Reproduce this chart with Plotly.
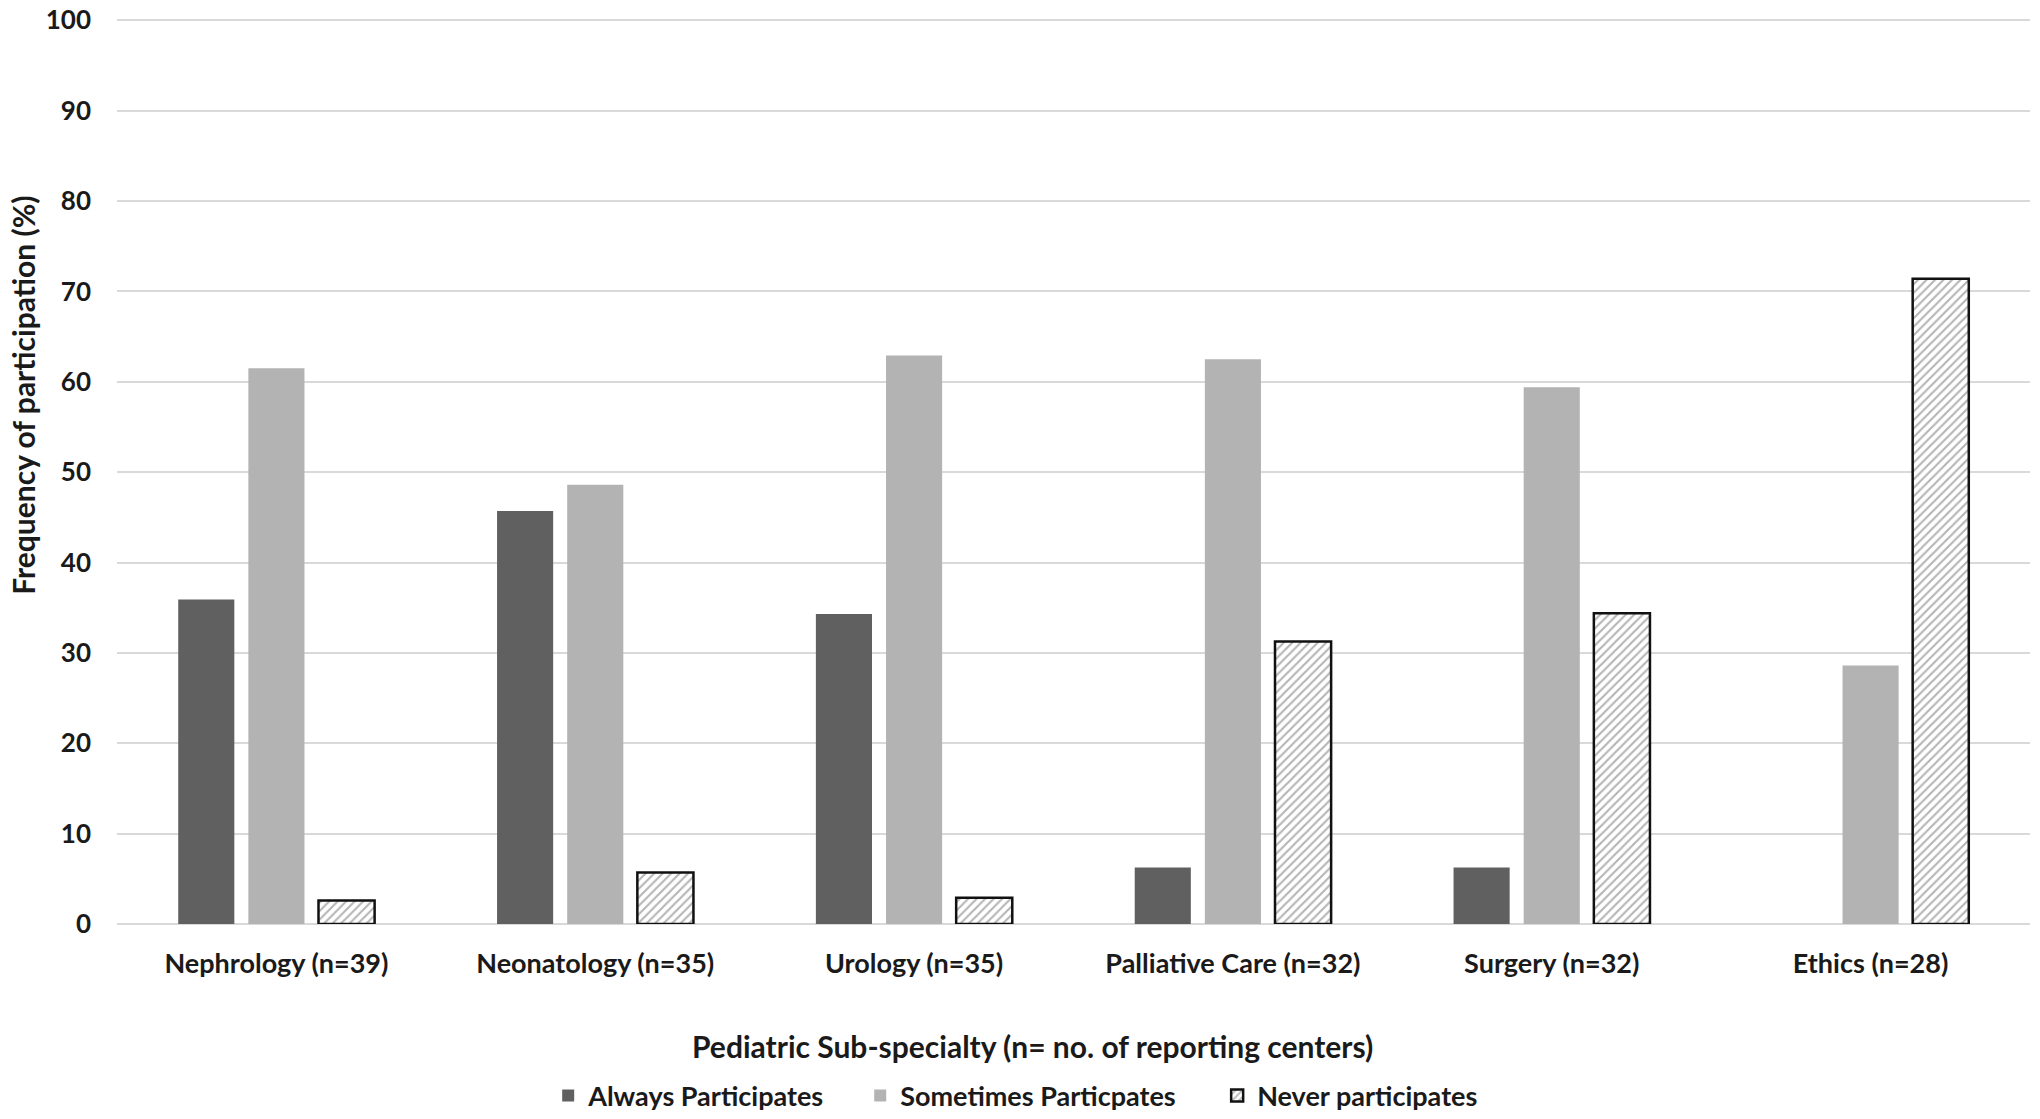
import plotly.graph_objects as go

categories = ["Nephrology (n=39)", "Neonatology (n=35)", "Urology (n=35)",
              "Palliative Care (n=32)", "Surgery (n=32)", "Ethics (n=28)"]
always = [35.9, 45.7, 34.3, 6.25, 6.25, 0]
sometimes = [61.5, 48.6, 62.9, 62.5, 59.4, 28.6]
never = [2.6, 5.7, 2.9, 31.25, 34.4, 71.4]
y_ticks = [0, 10, 20, 30, 40, 50, 60, 70, 80, 90, 100]

FONT = "Lato"
TXT = "#1a1a1a"

fig = go.Figure()
fig.add_trace(go.Bar(x=categories, y=always, name="Always Participates",
                     legend="legend",
                     marker=dict(color="#606060", line=dict(width=0))))
fig.add_trace(go.Bar(x=categories, y=sometimes, name="Sometimes Particpates",
                     legend="legend2",
                     marker=dict(color="#b3b3b3", line=dict(width=0))))
fig.add_trace(go.Bar(x=categories, y=never, name="Never participates",
                     legend="legend3",
                     marker=dict(color="white",
                                 line=dict(color="#111111", width=2.5),
                                 pattern=dict(shape="/", fgcolor="#6a6a6a",
                                              bgcolor="white", size=6,
                                              solidity=0.35))))

leg_common = dict(orientation="h", xanchor="left", y=-0.19, yanchor="middle",
                  font=dict(size=27, family=FONT, weight="bold", color=TXT),
                  itemwidth=30, bgcolor="rgba(0,0,0,0)")

fig.update_layout(
    width=2040, height=1119,
    paper_bgcolor="white", plot_bgcolor="white",
    margin=dict(l=117, r=10, t=19, b=195, autoexpand=False),
    barmode="group", bargap=0.34, bargroupgap=0.2,
    font=dict(family=FONT, size=24, color=TXT, weight="bold"),
    legend=dict(x=0.2254, **leg_common),
    legend2=dict(x=0.3885, **leg_common),
    legend3=dict(x=0.5751, **leg_common),
    showlegend=True,
    annotations=[
        dict(text="Pediatric Sub-specialty (n= no. of reporting centers)",
             xref="paper", yref="paper", x=0.4787, y=-0.135,
             xanchor="center", yanchor="middle", showarrow=False,
             font=dict(size=30, family=FONT, color=TXT, weight="bold")),
        dict(text="Frequency of participation (%)", textangle=-90,
             xref="paper", yref="paper", x=-0.049, y=0.584,
             xanchor="center", yanchor="middle", showarrow=False,
             font=dict(size=30, family=FONT, color=TXT, weight="bold")),
    ],
)
fig.update_xaxes(
    showgrid=False, showline=False, zeroline=False, automargin=False,
    tickfont=dict(size=27, family=FONT, weight="bold"),
    ticklabelstandoff=21,
)
fig.update_yaxes(
    range=[0, 100.15], tickvals=y_ticks, showgrid=True, gridcolor="#d9d9d9",
    gridwidth=2, zeroline=True, zerolinecolor="#d9d9d9", zerolinewidth=2,
    showline=False, automargin=False,
    tickfont=dict(size=26, family=FONT, weight="bold"),
    ticklabelstandoff=25,
)

fig.write_html("out.html",
               config={"displayModeBar": False},
               post_script="document.body.style.margin='0';document.body.style.overflow='hidden';")
